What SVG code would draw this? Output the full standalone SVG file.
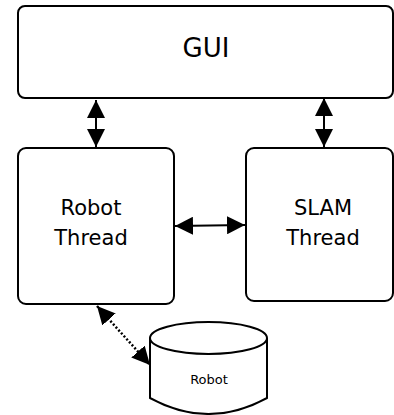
<svg xmlns="http://www.w3.org/2000/svg" width="394" height="415" viewBox="0 0 394 415">
<style>
.box{fill:#fff;stroke:#000;stroke-width:2}
.lbl{font-family:"DejaVu Sans",sans-serif;fill:#000;text-anchor:middle}
.conn{stroke:#000;stroke-width:2;fill:none}
.dot{stroke:#000;stroke-width:2.5;fill:none;stroke-dasharray:2 2}
</style>
<defs>
<marker id="ah" viewBox="0 0 18 18" refX="18" refY="9" markerWidth="18" markerHeight="18" markerUnits="userSpaceOnUse" orient="auto-start-reverse">
<path d="M0,0 L18,9 L0,18 Z" fill="#000"/>
</marker>
</defs>
<rect width="394" height="415" fill="#fff"/>
<g id="gui">
<rect class="box" x="18" y="6" width="375" height="92" rx="7"/>
<text class="lbl" x="206" y="57" font-size="26">GUI</text>
</g>
<g id="robot-thread">
<rect class="box" x="18" y="148" width="156" height="156" rx="8"/>
<text class="lbl" x="91" y="215" font-size="21">Robot</text>
<text class="lbl" x="91" y="245" font-size="21">Thread</text>
</g>
<g id="slam-thread">
<rect class="box" x="246" y="148" width="147" height="153" rx="8"/>
<text class="lbl" x="323" y="215" font-size="21">SLAM</text>
<text class="lbl" x="323" y="245" font-size="21">Thread</text>
</g>
<g id="robot-db">
<path class="box" d="M150,338 L150,398 Q208.5,430 267,398 L267,338"/>
<ellipse class="box" cx="208.5" cy="338" rx="58.5" ry="16"/>
<text class="lbl" x="209" y="384" font-size="13">Robot</text>
</g>
<g id="connectors">
<line class="conn" x1="96" y1="100" x2="96" y2="147" marker-start="url(#ah)" marker-end="url(#ah)"/>
<line class="conn" x1="324" y1="98" x2="324" y2="147" marker-start="url(#ah)" marker-end="url(#ah)"/>
<line class="conn" x1="175" y1="226" x2="245" y2="225" marker-start="url(#ah)" marker-end="url(#ah)"/>
<line class="dot" x1="97" y1="306" x2="150" y2="365" marker-start="url(#ah)" marker-end="url(#ah)"/>
</g>
</svg>
